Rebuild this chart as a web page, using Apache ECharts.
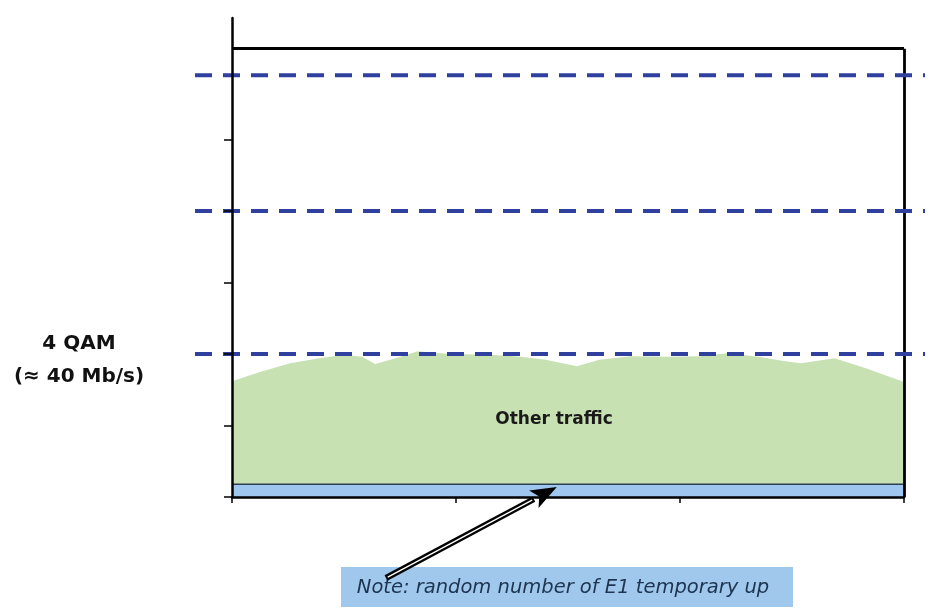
<!DOCTYPE html>
<html>
<head>
<meta charset="utf-8">
<script src="https://cdn.jsdelivr.net/npm/echarts@6/dist/echarts.min.js"></script>
<style>
  html, body { margin: 0; padding: 0; background: #ffffff; }
  #chart { width: 936px; height: 609px; }
</style>
</head>
<body>
<div id="chart"></div>
<script>
// Time positions (x) and heights of the "Other traffic" load profile
const trafficX = [0, 0.125, 0.26, 0.39, 0.5, 0.58, 0.64, 0.73, 0.83, 0.97, 1.15, 1.29, 1.4, 1.54, 1.64, 1.78, 1.96, 2.09, 2.21, 2.35, 2.47, 2.54, 2.69, 2.83, 3];
const trafficY = [16.2, 17.5, 18.7, 19.4, 19.9, 19.6, 18.6, 19.4, 20.4, 20.0, 19.9, 19.6, 19.2, 18.3, 19.2, 19.7, 19.6, 19.7, 20.1, 19.6, 19.0, 18.7, 19.4, 18.0, 16.1];

// Thin band of temporary E1 circuits along the bottom
const e1X = [0, 3];
const e1Y = [1.8, 1.8];

// Capacity thresholds (dashed) and the frame height
const capacityLevels = [20, 40, 59];
const frameTop = 62.7;
const yTicks = [0, 10, 20, 30, 40, 50];

const qamLabel = ['4 QAM', '(\u2248 40 Mb/s)'];
const areaLabel = 'Other traffic';
const noteText = 'Note: random number of E1 temporary up';

const chart = echarts.init(document.getElementById('chart'));

const zip = (xs, ys) => xs.map((x, i) => [x, ys[i]]);

const dashedSeries = capacityLevels.map(v => ({
  type: 'line',
  xAxisIndex: 1,
  yAxisIndex: 1,
  data: [[0, v], [1, v]],
  symbol: 'none',
  silent: true,
  z: 5,
  lineStyle: { color: '#30409e', width: 4, type: [17, 11] }
}));

chart.setOption({
  animation: false,
  grid: [
    { left: 232, right: 32, top: 18, bottom: 112 },
    { left: 195, right: 11, top: 18, bottom: 112 }
  ],
  xAxis: [
    {
      gridIndex: 0, type: 'value', min: 0, max: 3, interval: 1, z: 10,
      axisLine: { lineStyle: { color: '#000', width: 2.5 } },
      axisTick: { show: true, length: 6, lineStyle: { color: '#000', width: 1.5 } },
      axisLabel: { show: false },
      splitLine: { show: false }
    },
    { gridIndex: 1, type: 'value', min: 0, max: 1, show: false }
  ],
  yAxis: [
    {
      gridIndex: 0, type: 'value', min: 0, max: 67, interval: 10, z: 10,
      axisLine: { show: true, lineStyle: { color: '#000', width: 2.5 } },
      axisTick: { show: true, length: 8, customValues: yTicks, lineStyle: { color: '#000', width: 1.5 } },
      axisLabel: { show: false },
      splitLine: { show: false }
    },
    { gridIndex: 1, type: 'value', min: 0, max: 67, show: false }
  ],
  series: [
    {
      name: 'Other traffic',
      type: 'line',
      data: zip(trafficX, trafficY),
      symbol: 'none',
      silent: true,
      z: 2,
      lineStyle: { width: 0 },
      areaStyle: { color: '#c7e1b2', opacity: 1 }
    },
    {
      name: 'E1',
      type: 'line',
      data: zip(e1X, e1Y),
      symbol: 'none',
      silent: true,
      z: 3,
      lineStyle: { color: '#2a3f52', width: 1.5 },
      areaStyle: { color: '#9fc6ee', opacity: 1 }
    },
    {
      name: 'frame',
      type: 'line',
      data: [],
      silent: true,
      markLine: {
        silent: true,
        symbol: 'none',
        label: { show: false },
        lineStyle: { color: '#000', width: 2.8, type: 'solid' },
        data: [
          [{ coord: [0, frameTop] }, { coord: [3, frameTop] }],
          [{ coord: [3, 0] }, { coord: [3, frameTop] }]
        ]
      }
    },
    ...dashedSeries
  ]
});

// Annotations: labels, note box and arrow pointing at the E1 band
const tip = chart.convertToPixel({ gridIndex: 0 }, [1.45, 1.4]);
const tail = [386, 578];
const dx = tip[0] - tail[0], dy = tip[1] - tail[1];
const len = Math.sqrt(dx * dx + dy * dy);
const ux = dx / len, uy = dy / len;
const nx = -uy, ny = ux;
const headLen = 26, headHalf = 10;
const base = [tip[0] - headLen * ux, tip[1] - headLen * uy];

const labelFont = 'bold 20px "DejaVu Sans", sans-serif';

chart.setOption({
  graphic: [
    {
      type: 'text', x: 79, y: 344,
      style: { text: qamLabel[0], font: labelFont, fill: '#111', align: 'center', verticalAlign: 'middle' }
    },
    {
      type: 'text', x: 79, y: 377,
      style: { text: qamLabel[1], font: labelFont, fill: '#111', align: 'center', verticalAlign: 'middle' }
    },
    {
      type: 'text', x: 554, y: 420, z: 20,
      style: { text: areaLabel, font: 'bold 17px "DejaVu Sans", sans-serif', fill: '#1a1a1a', align: 'center', verticalAlign: 'middle' }
    },
    {
      type: 'rect', shape: { x: 341, y: 567, width: 452, height: 40 }, z: 20,
      style: { fill: '#a0c7ec' }
    },
    {
      type: 'text', x: 563, y: 588, z: 21,
      style: { text: noteText, font: 'italic 19.5px "DejaVu Sans", sans-serif', fill: '#1d3550', align: 'center', verticalAlign: 'middle' }
    },
    {
      type: 'line', z: 22,
      shape: { x1: tail[0], y1: tail[1], x2: base[0], y2: base[1] },
      style: { stroke: '#000', lineWidth: 6 }
    },
    {
      type: 'line', z: 23,
      shape: { x1: tail[0] + ux * 2, y1: tail[1] + uy * 2, x2: base[0] - ux * 2, y2: base[1] - uy * 2 },
      style: { stroke: '#fff', lineWidth: 1.4 }
    },
    {
      type: 'polygon', z: 24,
      shape: { points: [tip, [base[0] + headHalf * nx, base[1] + headHalf * ny], [base[0] + 6 * ux, base[1] + 6 * uy], [base[0] - headHalf * nx, base[1] - headHalf * ny]] },
      style: { fill: '#000' }
    }
  ]
});
</script>
</body>
</html>
